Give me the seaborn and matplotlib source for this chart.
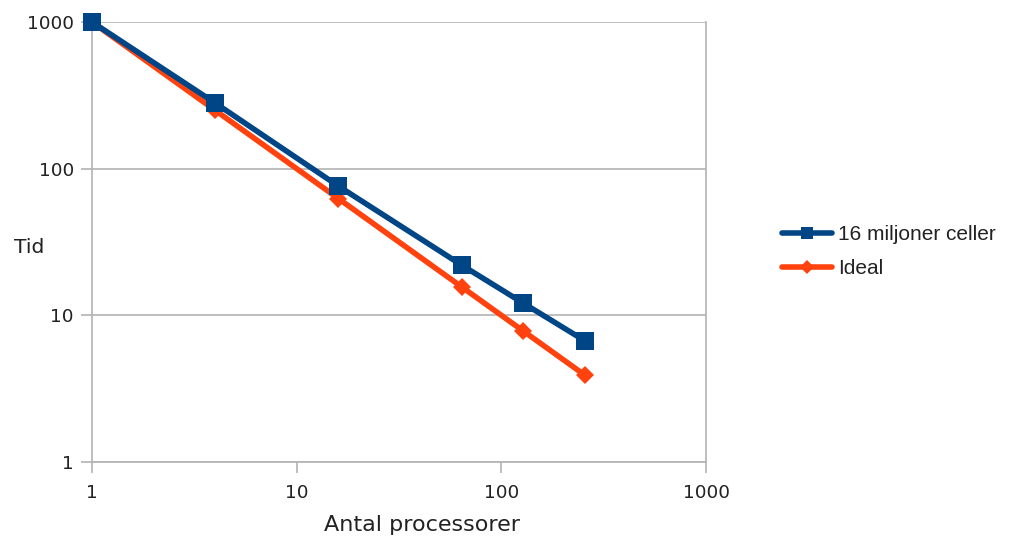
import matplotlib
matplotlib.use("Agg")
import matplotlib.pyplot as plt
import matplotlib.ticker as mticker
import seaborn as sns
import pandas as pd

# Datos
processorer = [1, 4, 16, 64, 128, 256]
tid_16m = [1000, 280, 76, 22, 12.1, 6.7]
tid_ideal = [1000, 250, 62.5, 15.625, 7.8125, 3.90625]
serier = ["16 miljoner celler", "Ideal"]
farger = ["#004586", "#ff420e"]
markorer = ["s", "D"]
ticks = [1, 10, 100, 1000]

df = pd.DataFrame({
    "Antal processorer": processorer * 2,
    "Tid": tid_16m + tid_ideal,
    "Serie": [serier[0]] * len(processorer) + [serier[1]] * len(processorer),
})

sns.set_style("white")
plt.rcParams["font.family"] = ["DejaVu Sans"]

fig = plt.figure(figsize=(10.15, 5.39), dpi=100)
ax = fig.add_axes([0.0906, 0.1429, 0.6050, 0.8163])

# Dibujar primero Ideal para que la serie azul quede encima
for serie, farg, mark, z in [(serier[1], farger[1], markorer[1], 3), (serier[0], farger[0], markorer[0], 4)]:
    sns.lineplot(data=df[df["Serie"] == serie], x="Antal processorer", y="Tid",
                 color=farg, marker=mark, markersize=12.5 if mark == "s" else 9.5,
                 markeredgewidth=0, linewidth=4, label=serie, ax=ax, zorder=z,
                 clip_on=False)

ax.set_xscale("log")
ax.set_yscale("log")
ax.set_xlim(1, 1000)
ax.set_ylim(1, 1000)
ax.set_xticks(ticks)
ax.set_yticks(ticks)
ax.xaxis.set_major_formatter(mticker.FuncFormatter(lambda v, p: f"{int(v)}"))
ax.yaxis.set_major_formatter(mticker.FuncFormatter(lambda v, p: f"{int(v)}"))
ax.xaxis.set_minor_locator(mticker.NullLocator())
ax.yaxis.set_minor_locator(mticker.NullLocator())

ax.grid(axis="y", color="#b3b3b3", linewidth=1.2)
ax.grid(axis="x", visible=False)
for side in ["left", "right", "bottom"]:
    ax.spines[side].set_visible(True)
    ax.spines[side].set_color("#b3b3b3")
    ax.spines[side].set_linewidth(1.2)
ax.spines["top"].set_visible(False)

ax.tick_params(axis="both", which="major", length=8, width=1.2, color="#b3b3b3",
               labelsize=13.3, direction="out", bottom=True, left=True,
               labelcolor="#222222")
ax.tick_params(axis="x", pad=8)
ax.tick_params(axis="y", pad=5)

ax.set_xlabel("Antal processorer", fontsize=16, color="#222222")
ax.xaxis.set_label_coords(0.537, -0.12)
ax.set_ylabel("Tid", fontsize=14.6, rotation=0, color="#222222")
ax.yaxis.set_label_coords(-0.102, 0.467)

# Leyenda a la derecha
handles, labels = ax.get_legend_handles_labels()
orden = [labels.index(s) for s in serier]
leg = ax.legend([handles[i] for i in orden], [labels[i] for i in orden],
                loc="center left", bbox_to_anchor=(1.093, 0.478), frameon=False,
                prop={"family": "Liberation Sans", "size": 15},
                handlelength=2.4, handletextpad=0.3, labelspacing=0.7,
                markerscale=0.7)
for t in leg.get_texts():
    t.set_color("#222222")

fig.savefig("out.png", dpi=100)
